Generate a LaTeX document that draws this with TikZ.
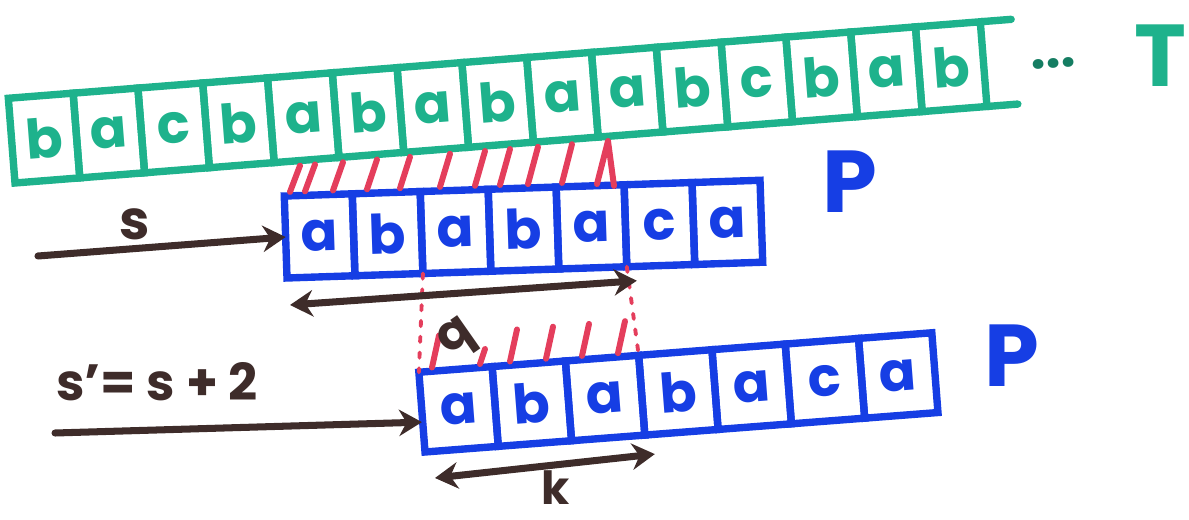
\documentclass[tikz,border=0pt]{standalone}
\usepackage{fontspec}
\setmainfont{Poppins}
\usetikzlibrary{arrows.meta,calc,positioning}

\definecolor{tgreen}{RGB}{30,178,140}
\definecolor{pblue}{RGB}{22,62,228}
\definecolor{hred}{RGB}{228,62,92}
\definecolor{ink}{RGB}{62,44,42}

\begin{document}
\begin{tikzpicture}[x=0.02cm, y=-0.02cm,
  cell/.style={
    rectangle,
    line width=4.2pt,
    inner sep=0pt,
    outer sep=0pt,
    font=\fontsize{31}{31}\selectfont\bfseries
  },
  tcell/.style={cell, draw=tgreen, text=tgreen, minimum width=1.3cm, minimum height=1.7cm},
  pcell/.style={cell, draw=pblue, text=pblue, minimum width=1.36cm, minimum height=1.64cm},
  qcell/.style={cell, draw=pblue, text=pblue, minimum width=1.47cm, minimum height=1.6cm},
  hatch/.style={draw=hred, line width=3.4pt, line cap=round, line join=round},
  guide/.style={draw=hred, line width=2.2pt, line cap=round, dash pattern=on 3pt off 6pt},
  shiftarrow/.style={draw=ink, line width=4pt, line cap=round, -{Stealth[length=13pt, width=15pt]}},
  spanarrow/.style={draw=ink, line width=4pt, {Stealth[length=13pt, width=15pt]}-{Stealth[length=13pt, width=15pt]}},
  inklabel/.style={text=ink, inner sep=1pt, font=\fontsize{31}{31}\selectfont\bfseries},
  rowlabel/.style={font=\fontsize{50}{50}\selectfont\bfseries}]
  \useasboundingbox (0,0) rectangle (1189,520);

  % text row T
  \begin{scope}[shift={(15,183)}, rotate=4.5, transform shape]
    \foreach \ch [count=\i] in {b,a,c,b,a,b,a,b,a,a,b,c,b,a,b}
      \node[tcell] (t\i) at ({(\i-0.5)*65}, -42.5) {\ch};
    \coordinate (ttop) at (1006,-85);
    \coordinate (tbot) at (1006,0);
    \node[text=tgreen!70!black, font=\fontsize{30}{30}\selectfont\bfseries] (dots) at (1045,-38) {...};
  \end{scope}
  \draw[tgreen, line width=4.2pt, line cap=round] (t15.north east) -- (ttop);
  \draw[tgreen, line width=4.2pt, line cap=round] (t15.south east) -- (tbot);
  \node[rowlabel, text=tgreen] (tname) at (1160,56) {T};

  % pattern at shift s
  \begin{scope}[shift={(287,278)}, rotate=1.9, transform shape]
    \foreach \ch [count=\i] in {a,b,a,b,a,c,a}
      \node[pcell] (p\i) at ({(\i-0.5)*68}, -41) {\ch};
  \end{scope}
  \node[rowlabel, text=pblue] (pname) at (850,182) {P};

  % pattern at shift s'
  \begin{scope}[shift={(425,452)}, rotate=4.4, transform shape]
    \foreach \ch [count=\i] in {a,b,a,b,a,c,a}
      \node[qcell] (q\i) at ({(\i-0.5)*73.5}, -40) {\ch};
  \end{scope}
  \node[rowlabel, text=pblue] (pname2) at (1012,356) {P};

  % matched characters
  \foreach \hx in {290,305,333,367,400,440,475,500,528,562} {
    \pgfmathsetmacro{\ya}{196-(\hx-287)*0.033-4}
    \pgfmathsetmacro{\yb}{183-(\hx+10-15)*0.0787+5}
    \draw[hatch] (\hx,\ya) -- (\hx+10,\yb);
  }
  \draw[hatch] (597,184) -- (608,141) -- (614,186);
  \foreach \hx in {432,510,546,582,618} {
    \pgfmathsetmacro{\ya}{372-(\hx-425)*0.077-4}
    \draw[hatch] (\hx,\ya) -- (\hx+7,\ya-32);
  }
  \draw[hatch] (480,364) -- (485,349);

  \draw[guide] (p2.south east) -- (q1.north west);
  \draw[guide] (p5.south east) -- (q3.north east);

  % shifts
  \coordinate (sfrom) at (38,256);
  \coordinate (s2from) at (55,433);
  \draw[shiftarrow] (sfrom) -- (p1.west);
  \draw[shiftarrow] (s2from) -- ($(q1.west)+(0,10)$);
  \node[inklabel] (sname) at (135,224) {s};
  \node[inklabel, font=\fontsize{29}{29}\selectfont\bfseries] (s2name) at (157,382) {s’= s + 2};

  % lengths q and k
  \coordinate (qleft) at ($(p1.south west)+(3,27)$);
  \coordinate (qright) at ($(p5.south east)+(10,14)$);
  \draw[spanarrow] (qleft) -- (qright);
  \node[inklabel, font=\fontsize{28}{28}\selectfont\bfseries, rotate=35] (qname) at (458,340) {q};

  \coordinate (kleft) at ($(q1.south west)+(10,26)$);
  \coordinate (kright) at ($(q3.south east)+(10,19)$);
  \draw[spanarrow] (kleft) -- (kright);
  \node[inklabel, font=\fontsize{26}{26}\selectfont\bfseries] (kname) at (556,488) {k};
\end{tikzpicture}
\end{document}
